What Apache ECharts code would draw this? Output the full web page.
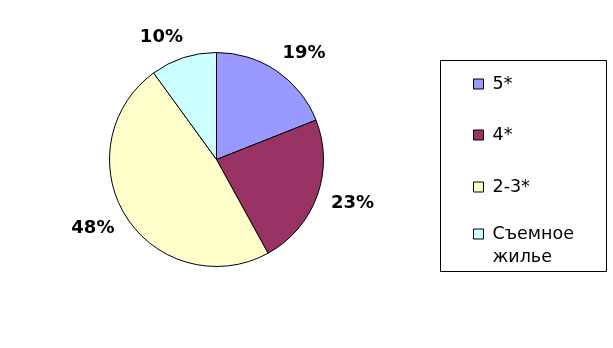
<!DOCTYPE html>
<html>
<head>
<meta charset="utf-8">
<script src="https://cdn.jsdelivr.net/npm/echarts@6/dist/echarts.min.js"></script>
<style>
html,body{margin:0;padding:0;background:#fff;}
#chart{width:613px;height:348px;}
</style>
</head>
<body>
<div id="chart"></div>
<script>
const categories = ['5*', '4*', '2-3*', 'Съемное жилье'];
const values = [19, 23, 48, 10];
const colors = ['#9999FF', '#993366', '#FFFFCC', '#CCFFFF'];
const legendNames = ['5*', '4*', '2-3*', 'Съемное\nжилье'];

const chart = echarts.init(document.getElementById('chart'), null, {renderer: 'canvas'});

const legendCenters = [80, 131, 183, 234];
const legends = categories.map((c, i) => {
  const multi = legendNames[i].indexOf('\n') >= 0;
  return {
    data: [{name: c, itemStyle: {borderColor: '#000', borderWidth: 1}}],
    orient: 'vertical',
    left: 473,
    top: multi ? legendCenters[i] - 5 - 29.5 : legendCenters[i] - 5,
    padding: 0,
    itemWidth: 10,
    itemHeight: 10,
    icon: 'rect',
    selectedMode: false,
    formatter: function (n) {
      const t = legendNames[categories.indexOf(n)];
      return t.indexOf('\n') >= 0 ? '\n' + t : t;
    },
    textStyle: {
      fontFamily: 'DejaVu Sans',
      fontSize: 17.5,
      color: '#000',
      lineHeight: multi ? 23 : 10,
      padding: [0, 0, 0, 4]
    }
  };
});

chart.setOption({
  animation: false,
  backgroundColor: '#fff',
  legend: legends,
  graphic: [{
    type: 'rect',
    shape: {x: 440.5, y: 60.5, width: 166, height: 211},
    style: {fill: 'none', stroke: '#000', lineWidth: 1},
    silent: true
  }],
  series: [{
    type: 'pie',
    center: [216.5, 159.5],
    radius: 107,
    startAngle: 90,
    clockwise: true,
    avoidLabelOverlap: false,
    data: categories.map((c, i) => ({name: c, value: values[i], itemStyle: {color: colors[i]}})),
    itemStyle: {borderColor: '#000', borderWidth: 1},
    label: {
      show: true,
      position: 'outside',
      alignTo: 'none',
      formatter: '{d}%',
      fontFamily: 'DejaVu Sans',
      fontWeight: 'bold',
      fontSize: 18,
      color: '#000'
    },
    labelLine: {show: false, length: 21, length2: -11},
    emphasis: {disabled: true}
  }]
});
</script>
</body>
</html>
